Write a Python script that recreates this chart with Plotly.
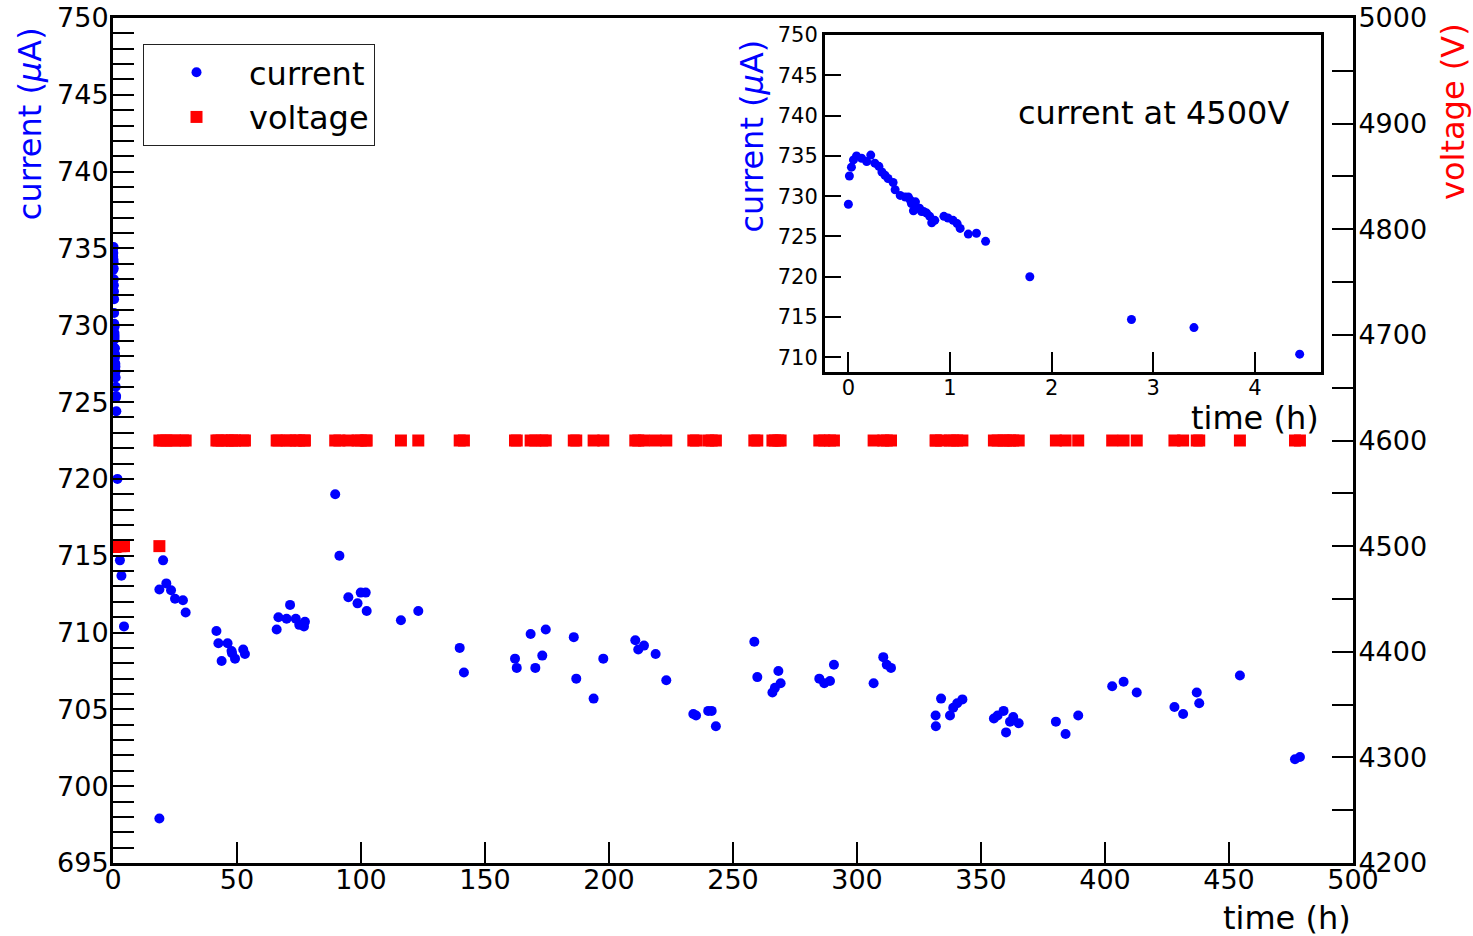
import plotly.graph_objects as go

# ---- data ----
time_h = [
    0.00, 0.01, 0.03, 0.05, 0.08, 0.13, 0.18, 0.22, 0.26, 0.30, 0.33, 0.36, 0.39, 0.44,
    0.46, 0.51, 0.56, 0.59, 0.61, 0.62, 0.64, 0.66, 0.67, 0.70, 0.72, 0.74, 0.77, 0.80,
    0.82, 0.85, 0.94, 0.98, 1.03, 1.07, 1.10, 1.18, 1.26, 1.35, 1.785, 2.785, 3.40, 4.44,
    18.7, 18.7, 20.2, 21.5, 23.4, 25.0, 28.2, 29.3,
    41.7, 42.5, 43.8, 46.2, 47.8, 48.0, 49.2, 52.5, 53.2,
    66.0, 66.7, 70.0, 71.4, 73.7, 75.1, 77.0, 77.4,
    89.6, 91.3, 94.9, 98.6, 99.9, 101.9, 102.3,
    116.1, 123.1, 139.8, 141.5,
    162.1, 162.8, 168.4, 170.3, 173.1, 174.5, 185.8, 186.8, 193.8, 197.7,
    210.6, 211.8, 214.1, 218.8, 223.1, 234.0, 235.1, 240.0, 241.4, 243.1,
    258.6, 259.8, 265.9, 266.9, 268.3, 269.2, 284.8, 286.8, 289.1, 290.7,
    306.7, 310.6, 312.0, 313.7,
    331.7, 331.8, 333.9, 337.5, 338.8, 340.4, 342.5,
    355.2, 356.7, 359.1, 360.1, 361.7, 363.0, 365.2,
    380.2, 384.1, 389.2, 402.9, 407.5, 412.8,
    428.0, 431.5, 437.0, 438.0, 454.4, 476.6, 478.6,
]
current_uA = [
    729.0, 732.5, 733.6, 734.5, 735.0, 734.7, 734.3, 735.1, 734.1, 733.7, 733.0, 732.6, 732.2, 731.7,
    730.8, 730.1, 729.9, 729.9, 729.5, 729.1, 728.2, 729.3, 728.5, 728.5, 728.1, 728.1, 727.9, 727.5,
    726.7, 727.0, 727.5, 727.3, 727.0, 726.6, 726.0, 725.3, 725.4, 724.4, 720.0, 714.7, 713.7, 710.4,
    712.8, 697.9, 714.7, 713.2, 712.75, 712.2, 712.1, 711.3,
    710.1, 709.3, 708.15, 709.3, 708.8, 708.65, 708.3, 708.9, 708.6,
    710.2, 711.0, 710.9, 711.8, 710.9, 710.5, 710.4, 710.7,
    719.0, 715.0, 712.3, 711.9, 712.6, 712.6, 711.4,
    710.8, 711.4, 709.0, 707.4,
    708.3, 707.7, 709.9, 707.7, 708.5, 710.2, 709.7, 707.0, 705.7, 708.3,
    709.5, 708.9, 709.15, 708.6, 706.9, 704.7, 704.6, 704.9, 704.9, 703.9,
    709.4, 707.1, 706.1, 706.4, 707.5, 706.7, 707.0, 706.7, 706.85, 707.9,
    706.7, 708.4, 707.9, 707.7,
    704.6, 703.9, 705.7, 704.6, 705.1, 705.4, 705.65,
    704.4, 704.6, 704.9, 703.5, 704.2, 704.5, 704.1,
    704.2, 703.4, 704.6, 706.5, 706.8, 706.1,
    705.15, 704.7, 706.1, 705.4, 707.2, 701.75, 701.9,
]
voltage_V = [4500] * 42 + [4500] + [4600] * (len(time_h) - 43)

inset_t = [t for t in time_h if t < 5]
inset_i = [c for t, c in zip(time_h, current_uA) if t < 5]

BLUE = "#0000ff"
RED = "#ff0000"
FONT = "DejaVu Sans"

fig = go.Figure()
fig.add_trace(go.Scatter(x=time_h, y=current_uA, mode="markers", name="current",
                         marker=dict(color=BLUE, size=10, symbol="circle"),
                         xaxis="x", yaxis="y"))
fig.add_trace(go.Scatter(x=time_h, y=voltage_V, mode="markers", name="voltage",
                         marker=dict(color=RED, size=12, symbol="square"),
                         xaxis="x", yaxis="y2"))
fig.add_trace(go.Scatter(x=inset_t, y=inset_i, mode="markers", showlegend=False,
                         marker=dict(color=BLUE, size=9, symbol="circle"),
                         xaxis="x3", yaxis="y3"))

axis_common = dict(showgrid=False, zeroline=False, showline=True, linecolor="black",
                   ticks="inside", tickcolor="black", automargin=False)

fig.update_layout(
    width=1473, height=936,
    margin=dict(l=113, r=120, t=18, b=73, autoexpand=False),
    paper_bgcolor="white", plot_bgcolor="white",
    font=dict(family=FONT, size=27, color="black"),
    showlegend=True,
    legend=dict(x=0.0242, y=0.9692, xanchor="left", yanchor="top",
                bgcolor="white", bordercolor="#222", borderwidth=1,
                font=dict(size=32, family=FONT), itemwidth=95),
    xaxis=dict(**axis_common, domain=[0, 1], range=[0, 500], dtick=50, ticklen=21,
               tickwidth=2, linewidth=3, mirror=True, anchor="y",
               tickfont=dict(size=27), ticklabelstandoff=-9),
    yaxis=dict(**axis_common, range=[695, 750], dtick=5, ticklen=21, tickwidth=2,
               linewidth=3, anchor="x", tickfont=dict(size=27), ticklabelstandoff=-4,
               minor=dict(dtick=1, ticklen=21, tickwidth=2, tickcolor="black", ticks="inside")),
    yaxis2=dict(**axis_common, range=[4200, 5000], dtick=100, ticklen=21, tickwidth=2,
                linewidth=3, overlaying="y", side="right", anchor="x",
                tickfont=dict(size=27), ticklabelstandoff=-3,
                minor=dict(dtick=50, ticklen=21, tickwidth=2, tickcolor="black", ticks="inside")),
    xaxis3=dict(**axis_common, domain=[0.5742, 0.9742], range=[-0.23, 4.65], dtick=1,
                ticklen=20, tickwidth=2, linewidth=3, mirror=True, anchor="y3",
                tickfont=dict(size=21), ticklabelstandoff=-6),
    yaxis3=dict(**axis_common, domain=[0.5807, 0.9799], range=[708.15, 750], dtick=5,
                ticklen=16, tickwidth=2, linewidth=3, mirror=True, anchor="x3",
                tickfont=dict(size=21)),
)

ann_font = dict(family=FONT, size=32)
fig.add_annotation(text="current (<i>μ</i>A)", xref="paper", yref="paper", x=-0.067, y=0.992,
                   xanchor="center", yanchor="top", textangle=-90, showarrow=False,
                   font=dict(**ann_font, color=BLUE))
fig.add_annotation(text="voltage (V)", xref="paper", yref="paper", x=1.0806, y=0.997,
                   xanchor="center", yanchor="top", textangle=-90, showarrow=False,
                   font=dict(**ann_font, color=RED))
fig.add_annotation(text="time (h)", xref="paper", yref="paper", x=1.0, y=-0.065,
                   xanchor="right", yanchor="middle", showarrow=False,
                   font=dict(**ann_font, color="black"))
fig.add_annotation(text="time (h)", xref="paper", yref="paper", x=0.9742, y=0.5266,
                   xanchor="right", yanchor="middle", showarrow=False,
                   font=dict(**ann_font, color="black"))
fig.add_annotation(text="current (<i>μ</i>A)", xref="paper", yref="paper", x=0.5153, y=0.9775,
                   xanchor="center", yanchor="top", textangle=-90, showarrow=False,
                   font=dict(**ann_font, color=BLUE))
fig.add_annotation(text="current at 4500V", xref="paper", yref="paper", x=0.8391, y=0.8876,
                   xanchor="center", yanchor="middle", showarrow=False,
                   font=dict(**ann_font, color="black"))

fig.write_html("out.html", config={"displayModeBar": False},
               post_script="document.body.style.margin='0';document.body.style.padding='0';")
